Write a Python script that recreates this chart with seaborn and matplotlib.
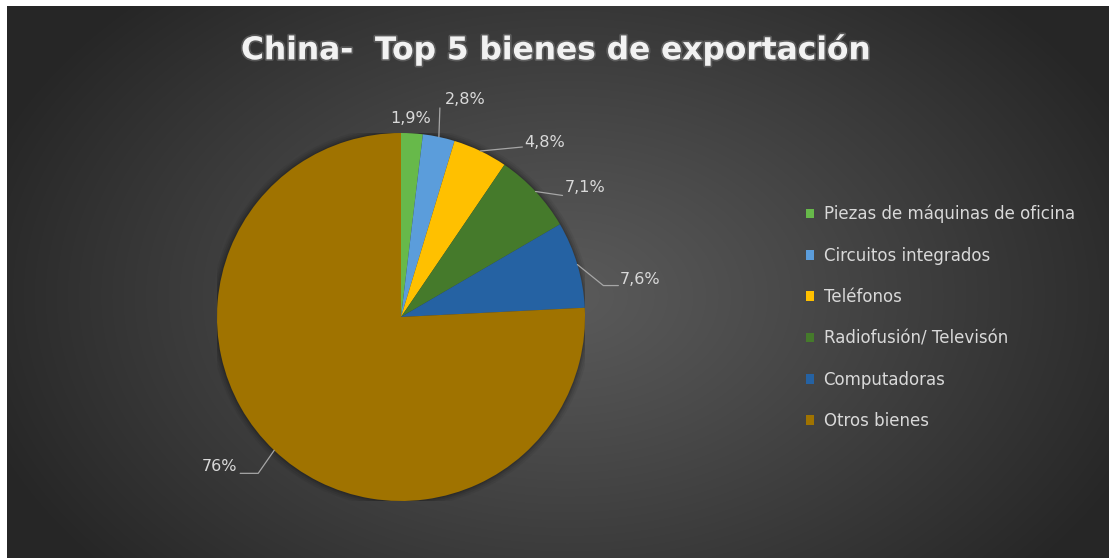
import numpy as np
import matplotlib
matplotlib.use("Agg")
import matplotlib.pyplot as plt
import seaborn as sns
from matplotlib.patches import Patch, Circle
import matplotlib.patheffects as pe

# data
categories = ['Piezas de máquinas de oficina', 'Circuitos integrados', 'Teléfonos',
              'Radiofusión/ Televisón', 'Computadoras', 'Otros bienes']
shares = [1.9, 2.8, 4.8, 7.1, 7.6, 75.8]
pct_labels = ['1,9%', '2,8%', '4,8%', '7,1%', '7,6%', '76%']
colors = ['#67b94a', '#5b9ddb', '#ffc000', '#457a2b', '#2562a3', '#a07300']
title = 'China-  Top 5 bienes de exportación'

sns.set_style('dark')
plt.rcParams['font.family'] = ['DejaVu Sans']
palette = sns.color_palette(colors)

W, H = 1109, 558
fig = plt.figure(figsize=(W / 100, H / 100), dpi=100)
fig.patch.set_facecolor('white')

# gradient background (chart area starts a few px in from top/left)
x0, y0 = 7, 6
bg = fig.add_axes([x0 / W, 0, (W - x0) / W, (H - y0) / H])
yy, xx = np.mgrid[0:H - y0, 0:W - x0]
cx, cy = 560, 290
r = np.sqrt(((xx - cx) / 620) ** 2 + ((yy - cy) / 420) ** 2)
r = np.clip(r, 0, 1)
c_in, c_out = 0x5a / 255, 0x26 / 255
val = c_in + (c_out - c_in) * r ** 1.1
img = np.dstack([val, val, val])
bg.imshow(img, aspect='auto', interpolation='bilinear')
bg.axis('off')

# pie axes: center (401, 317) px, radius 184 px
R = 184
pcx, pcy = 401, 317
ax = fig.add_axes([(pcx - R) / W, (H - pcy - R) / H, 2 * R / W, 2 * R / H])
ax.set_facecolor('none')
ax.axis('off')

# soft shadow behind the pie
for k, a in zip([1.035, 1.025, 1.015, 1.007], [0.05, 0.07, 0.09, 0.12]):
    ax.add_patch(Circle((0, 0), k, color='black', alpha=a, zorder=0, lw=0))

wedges, _ = ax.pie(shares, colors=palette, startangle=90, counterclock=False,
                   wedgeprops=dict(linewidth=0), radius=1)
ax.set_xlim(-1, 1)
ax.set_ylim(-1, 1)
ax.set_aspect('equal')

# leader line offsets in px: (elbow dx, elbow dy, horizontal length, text dx, text dy, ha)
offsets = [(0, 0, 0, -1, -7, 'center'),
           (1, -29, 0, 5, -8, 'left'),
           (42, -4, 0, 2, -5, 'left'),
           (27, 4, 0, 2, -8, 'left'),
           (26, 21, 15, 1, -6, 'left'),
           (-16, 23, -18, -3, -7, 'right')]

line_col = '#a6a6a6'
txt_col = '#d9d9d9'
for w, lab, (ex, ey, hl, tdx, tdy, ha) in zip(wedges, pct_labels, offsets):
    ang = np.deg2rad((w.theta1 + w.theta2) / 2)
    axp, ayp = np.cos(ang), np.sin(ang)
    e1 = (axp + ex / R, ayp - ey / R)
    e2 = (e1[0] + hl / R, e1[1])
    if ex or ey:
        ax.plot([axp, e1[0], e2[0]], [ayp, e1[1], e2[1]], color=line_col,
                lw=0.9, clip_on=False, zorder=5)
        tx, ty = e2[0] + tdx / R, e2[1] - tdy / R
        va = 'center'
    else:
        tx, ty = axp + tdx / R, ayp - tdy / R
        va = 'bottom'
    ax.text(tx, ty, lab, ha=ha, va=va, color=txt_col, fontsize=11.5,
            clip_on=False, zorder=6)

# title
fig.text(556 / W, 1 - 50 / H, title, ha='center', va='center', color='#f2f2f2',
         fontsize=22.5, fontweight='bold',
         path_effects=[pe.withStroke(linewidth=2.5, foreground='#9a9a9a', alpha=0.35)])

# legend
handles = [Patch(facecolor=c, edgecolor='none') for c in palette]
leg = fig.legend(handles, categories, loc='center left',
                 bbox_to_anchor=(806 / W, 1 - 317.5 / H), frameon=False,
                 fontsize=12, labelcolor=txt_col, handlelength=0.5,
                 handleheight=0.5, handletextpad=0.55, labelspacing=1.4,
                 borderaxespad=0, borderpad=0)

fig.savefig('out.png', dpi=100, facecolor='white')
